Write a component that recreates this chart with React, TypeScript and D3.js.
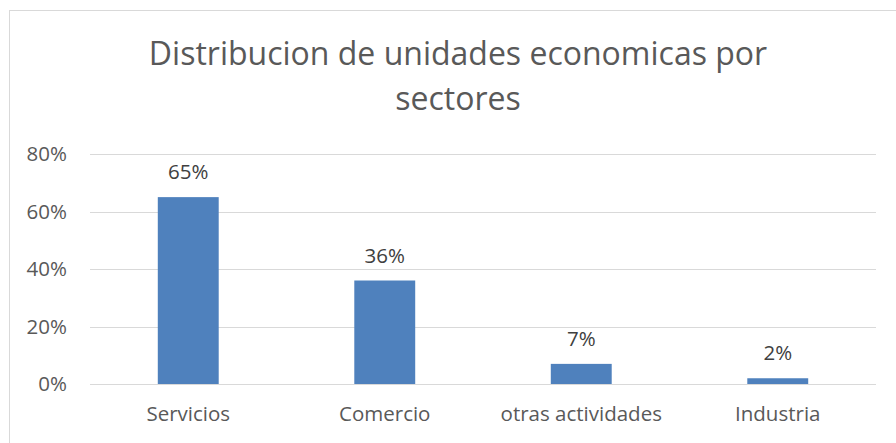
import React, { useEffect, useRef } from "react";
import * as d3 from "d3";

const categories = ["Servicios", "Comercio", "otras actividades", "Industria"];
const values = [0.65, 0.36, 0.07, 0.02];
const yTicks = [0, 0.2, 0.4, 0.6, 0.8];
const titleLines = ["Distribucion de unidades economicas por", "sectores"];

const width = 896;
const height = 443;
const font = "'Open Sans', sans-serif";

export default function App() {
  const ref = useRef<SVGSVGElement>(null);

  useEffect(() => {
    const svg = d3.select(ref.current);
    svg.selectAll("*").remove();

    // chart frame
    svg.append("rect")
      .attr("x", 9.5).attr("y", 10.5)
      .attr("width", 897).attr("height", 450)
      .attr("fill", "#fff")
      .attr("stroke", "#d9d9d9");

    // title
    svg.append("g").selectAll("text")
      .data(titleLines)
      .join("text")
      .attr("x", 458)
      .attr("y", (d, i) => 65 + i * 45)
      .attr("text-anchor", "middle")
      .attr("font-family", font)
      .attr("font-size", 32)
      .attr("fill", "#595959")
      .text(d => d);

    const x = d3.scaleBand()
      .domain(categories)
      .range([90, 876])
      .paddingInner(0.69)
      .paddingOuter(0.345);

    const y = d3.scaleLinear()
      .domain([0, 0.8])
      .range([384, 154]);

    // gridlines
    svg.append("g").selectAll("line")
      .data(yTicks)
      .join("line")
      .attr("x1", 90).attr("x2", 876)
      .attr("y1", d => Math.round(y(d)) + 0.5)
      .attr("y2", d => Math.round(y(d)) + 0.5)
      .attr("stroke", "#d9d9d9")
      .attr("stroke-width", 1.2);

    // y tick labels
    svg.append("g").selectAll("text")
      .data(yTicks)
      .join("text")
      .attr("x", 67)
      .attr("y", d => y(d))
      .attr("dy", "0.35em")
      .attr("text-anchor", "end")
      .attr("font-family", font)
      .attr("font-size", 20.5)
      .attr("fill", "#595959")
      .text(d => d3.format(".0%")(d));

    // bars
    svg.append("g").selectAll("rect")
      .data(values)
      .join("rect")
      .attr("x", (d, i) => x(categories[i])!)
      .attr("width", x.bandwidth())
      .attr("y", d => y(d))
      .attr("height", d => y(0) - y(d))
      .attr("fill", "#4f81bd");

    // value labels
    svg.append("g").selectAll("text")
      .data(values)
      .join("text")
      .attr("x", (d, i) => x(categories[i])! + x.bandwidth() / 2)
      .attr("y", d => y(d) - 25)
      .attr("dy", "0.35em")
      .attr("text-anchor", "middle")
      .attr("font-family", font)
      .attr("font-size", 20.5)
      .attr("fill", "#404040")
      .text(d => d3.format(".0%")(d));

    // category labels
    svg.append("g").selectAll("text")
      .data(categories)
      .join("text")
      .attr("x", d => x(d)! + x.bandwidth() / 2)
      .attr("y", 414)
      .attr("dy", "0.35em")
      .attr("text-anchor", "middle")
      .attr("font-family", font)
      .attr("font-size", 20.5)
      .attr("fill", "#595959")
      .text(d => d);
  }, []);

  return (
    <svg
      ref={ref}
      width={width}
      height={height}
      style={{ position: "absolute", left: 0, top: 0, background: "#fff" }}
    />
  );
}
